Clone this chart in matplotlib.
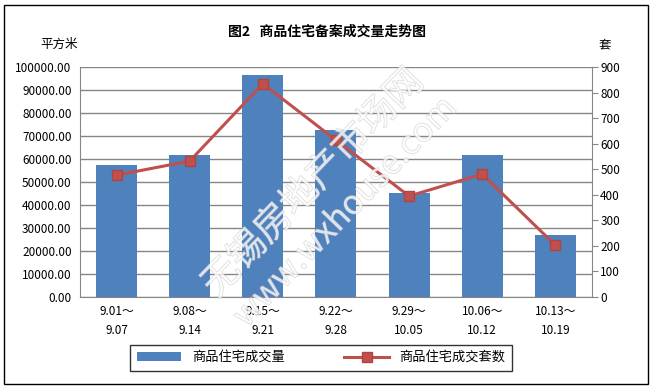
import matplotlib
matplotlib.use("Agg")
import matplotlib.pyplot as plt
import matplotlib.patheffects as pe
from matplotlib.patches import Rectangle
from matplotlib.lines import Line2D
from matplotlib.patches import Patch

plt.rcParams['font.family'] = ['Noto Sans CJK SC', 'DejaVu Sans']

categories = ["9.01～\n9.07", "9.08～\n9.14", "9.15～\n9.21", "9.22～\n9.28",
              "9.29～\n10.05", "10.06～\n10.12", "10.13～\n10.19"]
area_values = [57400, 61700, 96500, 72600, 45200, 61700, 27000]
unit_values = [477, 532, 835, 614, 395, 481, 203]
left_ticks = list(range(0, 100001, 10000))
right_ticks = list(range(0, 901, 100))

fig = plt.figure(figsize=(6.54, 3.9), dpi=100)
fig.patches.append(Rectangle((0.006, 0.015), 0.985, 0.972, transform=fig.transFigure,
                             fill=False, edgecolor='black', linewidth=1.0))

ax = fig.add_axes([0.1223, 0.2385, 0.7827, 0.5895])
x = list(range(len(categories)))
ax.bar(x, area_values, width=0.56, color='#4F81BD', zorder=2)
ax.set_xlim(-0.5, len(categories) - 0.5)
ax.set_ylim(0, 100000)
ax.set_yticks(left_ticks)
ax.set_yticklabels([f"{v:.2f}" for v in left_ticks], fontsize=8.5)
ax.set_xticks(x)
ax.set_xticklabels(categories, fontsize=8.5, linespacing=1.6)
ax.tick_params(axis='x', length=0, pad=6)
ax.tick_params(axis='y', length=0, pad=6)
ax.grid(axis='y', color='#868686', linewidth=1.0, zorder=0)
ax.set_axisbelow(True)
for s in ['top', 'right']:
    ax.spines[s].set_visible(False)
ax.spines['left'].set_color('#868686')
ax.spines['bottom'].set_color('#868686')

ax2 = ax.twinx()
ax2.plot(x, unit_values, color='#C0504D', linewidth=2.2, marker='s', markersize=7,
         markerfacecolor='#C0504D', markeredgecolor='#B04440', zorder=3)
ax2.set_ylim(0, 900)
ax2.set_yticks(right_ticks)
ax2.set_yticklabels([str(v) for v in right_ticks], fontsize=8.5)
ax2.tick_params(axis='y', length=4, color='#868686', direction='out', pad=2)
for s in ['top', 'left', 'bottom']:
    ax2.spines[s].set_visible(False)
ax2.spines['right'].set_color('#868686')

fig.text(0.5, 0.918, "图2   商品住宅备案成交量走势图", ha='center', va='center',
         fontsize=10, fontweight='bold')
fig.text(0.062, 0.885, "平方米", ha='left', va='center', fontsize=9)
fig.text(0.915, 0.885, "套", ha='left', va='center', fontsize=9)

# watermark
wm = dict(color='white', alpha=0.55, ha='center', va='center', rotation=46,
          fontweight='light',
          path_effects=[pe.withStroke(linewidth=0.8, foreground='#BFBFBF')])
fig.text(0.479, 0.53, "无锡房地产市场网", fontsize=27, **wm, zorder=10)
fig.text(0.528, 0.456, "www.wxhouse.com", fontsize=24, **wm, zorder=10)

handles = [Patch(facecolor='#4F81BD', edgecolor='none'),
           Line2D([0], [0], color='#C0504D', linewidth=2.2, marker='s', markersize=7,
                  markerfacecolor='#C0504D', markeredgecolor='#B04440')]
leg = fig.legend(handles, ["商品住宅成交量", "商品住宅成交套数"], loc='center',
                 bbox_to_anchor=(0.491, 0.083), ncol=2, fontsize=9.5, frameon=True,
                 fancybox=False, edgecolor='black', handlelength=3.4,
                 columnspacing=4.5, borderpad=0.5, borderaxespad=0)
leg.get_frame().set_linewidth(1.0)

fig.savefig("out.png", dpi=100)
